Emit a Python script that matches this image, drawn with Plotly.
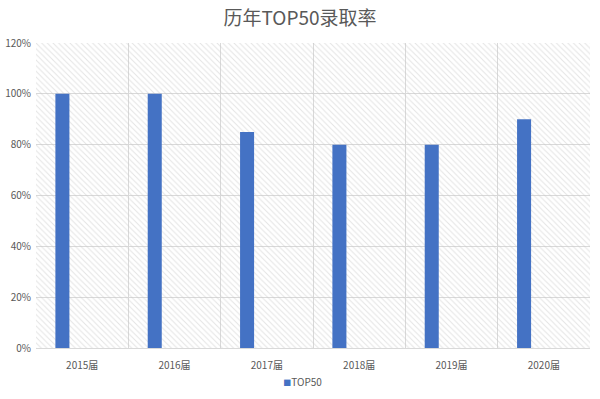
import plotly.graph_objects as go

categories = ["2015届", "2016届", "2017届", "2018届", "2019届", "2020届"]
top50_rate = [1.00, 1.00, 0.85, 0.80, 0.80, 0.90]
y_ticks = [0, 0.2, 0.4, 0.6, 0.8, 1.0, 1.2]
series_name = "TOP50"

BLUE = "#4472C4"
GRAY_TXT = "#595959"
GRID = "#d9d9d9"
FONT = "Noto Sans CJK SC, Noto Sans, sans-serif"

fig = go.Figure()

# hatched plot-area background (base axes, hidden)
fig.add_trace(go.Scatter(
    x=[0, 1, 1, 0, 0], y=[0, 0, 1, 1, 0],
    xaxis="x", yaxis="y",
    mode="lines", line=dict(width=0),
    fill="toself", fillcolor="rgba(0,0,0,0)",
    fillpattern=dict(shape="\\", size=4, solidity=0.24,
                     fgcolor="#c8c8c8", bgcolor="rgba(255,255,255,0)"),
    hoverinfo="skip", showlegend=False,
))

# data bars
fig.add_trace(go.Bar(
    x=categories, y=top50_rate, name=series_name,
    xaxis="x2", yaxis="y2",
    marker=dict(color=BLUE, line=dict(width=0)),
    width=0.152, offset=-0.29,
    showlegend=False, legendgroup="t",
))
# legend entry
fig.add_trace(go.Scatter(
    x=[None], y=[None],
    name=f'<span style="color:{BLUE};font-size:8px">■</span>{series_name}',
    mode="lines", line=dict(width=0, color="rgba(0,0,0,0)"),
    xaxis="x2", yaxis="y2",
    legendgroup="t", showlegend=True,
))

fig.update_layout(
    width=600, height=399,
    margin=dict(l=36, r=10, t=43, b=51, autoexpand=False),
    paper_bgcolor="white", plot_bgcolor="white",
    font=dict(family=FONT, color=GRAY_TXT, size=10),
    title=dict(text="历年TOP50录取率", x=0.5, xanchor="center",
               y=0.953, yanchor="middle",
               font=dict(family=FONT, size=19, color=GRAY_TXT)),
    xaxis=dict(range=[0, 1], visible=False, fixedrange=True),
    yaxis=dict(range=[0, 1], visible=False, fixedrange=True),
    xaxis2=dict(overlaying="x", type="category", tickson="boundaries",
                showgrid=True, gridcolor=GRID, gridwidth=1,
                showline=True, linecolor=GRID, ticks="",
                ticklabelstandoff=8, automargin=False,
                tickfont=dict(size=10, color=GRAY_TXT),
                range=[-0.5, 5.5]),
    yaxis2=dict(overlaying="y", range=[0, 1.2], tickvals=y_ticks,
                tickformat=".0%", showgrid=True, gridcolor=GRID,
                zeroline=False, showline=False, ticks="",
                ticklabelstandoff=4, automargin=False,
                tickfont=dict(size=10, color=GRAY_TXT)),
    barmode="overlay",
    legend=dict(orientation="h", x=0.451, xanchor="center",
                yref="container", y=0.043, yanchor="middle",
                bgcolor="rgba(0,0,0,0)",
                font=dict(size=10, color=GRAY_TXT),
                itemwidth=30),
)

fig.write_html("out.html")
